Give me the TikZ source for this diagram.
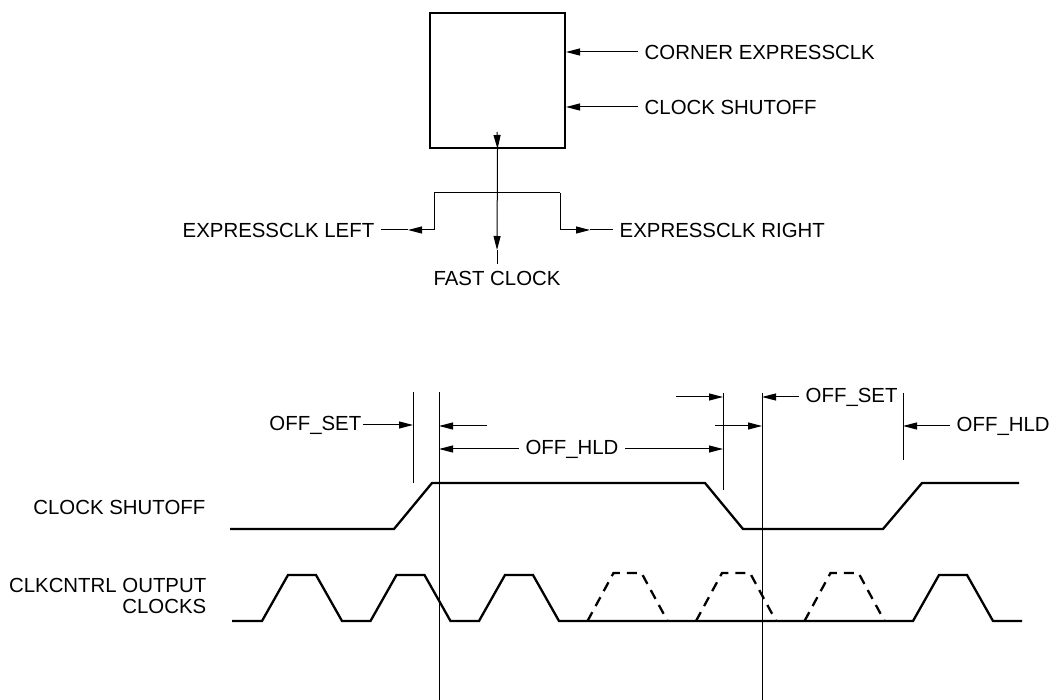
\documentclass[tikz,border=0pt]{standalone}
\usepackage{fontspec}
\setmainfont{Liberation Sans}
\usepackage{tikz}
\usetikzlibrary{arrows.meta,positioning,calc}

\begin{document}
\begin{tikzpicture}[x=1pt, y=-1pt,
    every node/.style={font=\fontsize{20.4}{21}\selectfont},
    lbl/.style={inner sep=6.5pt},
    tlbl/.style={inner sep=1.5pt},
    arr/.style={-{Triangle[length=14pt, width=7pt]}, line width=1pt},
    thinl/.style={line width=1pt},
    sig/.style={line width=2.3pt, line join=miter}]
\useasboundingbox (0,0) rectangle (1050,700);

% ==== Expressclk block (top) ====
\node[draw, line width=2pt, minimum width=135pt, minimum height=135pt, inner sep=0pt]
    (blk) at (497.5,80.5) {};
\node[lbl, anchor=west] (corner) at (638,52)  {CORNER EXPRESSCLK};
\node[lbl, anchor=west] (shut)   at (638,107) {CLOCK SHUTOFF};
\draw[arr] (corner.west) -- (corner.west -| blk.east);
\draw[arr] (shut.west) -- (shut.west -| blk.east);

% fast clock runs straight down, the two expressclk outputs branch off
\node[lbl] (fast)  at (497,278) {FAST CLOCK};
\node[lbl, anchor=east] (left)  at (381,230) {EXPRESSCLK LEFT};
\node[lbl, anchor=west] (right) at (613,230) {EXPRESSCLK RIGHT};
\coordinate (fctop) at (497,132);
\coordinate (fctip) at (497,250);
\coordinate (brL)   at (434,193);
\coordinate (brR)   at (560,193);
\coordinate (lftip) at (408,230);
\coordinate (rttip) at (590,230);
\draw[arr] (fctop) -- (blk.south);
\draw[arr] (blk.south) -- (fctip);
\draw[thinl] (fctip) -- (fast.north);
\draw[thinl] (brL) -- (brR);
\draw[arr] (brL) |- (lftip);
\draw[thinl] (lftip) -- (left.east);
\draw[arr] (brR) |- (rttip);
\draw[thinl] (rttip) -- (right.west);

% ==== Timing (bottom) ====
\node[tlbl, anchor=east] (shutlbl) at (207,507) {CLOCK SHUTOFF};
\node[tlbl, anchor=east, align=right] (clklbl) at (208,596) {CLKCNTRL OUTPUT\\CLOCKS};

% clock shutoff waveform
\draw[sig] (230,529) -- (394,529) -- (432,483) -- (705,483) -- (743,529)
    -- (883,529) -- (922,483) -- (1019,483);

% output clocks: solid pulses, the suppressed ones dashed
\draw[sig] (232,621) foreach \k in {0,1,2,6} {
    -- ({262+108.5*\k},621) -- ++(26,-46) -- ++(28,0) -- ++(26,46) } -- (1022,621);
\draw[sig, dashed, dash pattern=on 10pt off 7pt] foreach \k in {3,4,5} {
    ({262+108.5*\k},621) -- ++(26,-48) -- ++(28,0) -- ++(26,48) };

% reference lines
\coordinate (ta) at (413,392);
\coordinate (tb) at (439,392);
\coordinate (tc) at (723,393);
\coordinate (td) at (762,393);
\coordinate (te) at (903,393);
\draw[thinl] (ta) -- (413,483);
\draw[thinl] (tb) -- (439,700);
\draw[thinl] (tc) -- (723,490);
\draw[thinl] (td) -- (762,700);
\draw[thinl] (te) -- (903,460);

% setup / hold markers
\node[tlbl, anchor=east] (set1) at (363,425) {OFF\_SET};
\node[lbl] (hld1) at (572,449) {OFF\_HLD};
\node[lbl, anchor=west] (set2) at (799,397) {OFF\_SET};
\node[lbl, anchor=west] (hld2) at (950,426) {OFF\_HLD};
\coordinate (hs1) at (487,426);
\coordinate (hs2) at (676,397);
\coordinate (hs3) at (715,426);
\draw[arr] (set1.east) -- (set1.east -| ta);
\draw[arr] (hs1) -- (hs1 -| tb);
\draw[arr] (hld1.west) -- (hld1.west -| tb);
\draw[arr] (hld1.east) -- (hld1.east -| tc);
\draw[arr] (hs2) -- (hs2 -| tc);
\draw[arr] (hs3) -- (hs3 -| td);
\draw[arr] (set2.west) -- (set2.west -| td);
\draw[arr] (hld2.west) -- (hld2.west -| te);
\end{tikzpicture}
\end{document}
